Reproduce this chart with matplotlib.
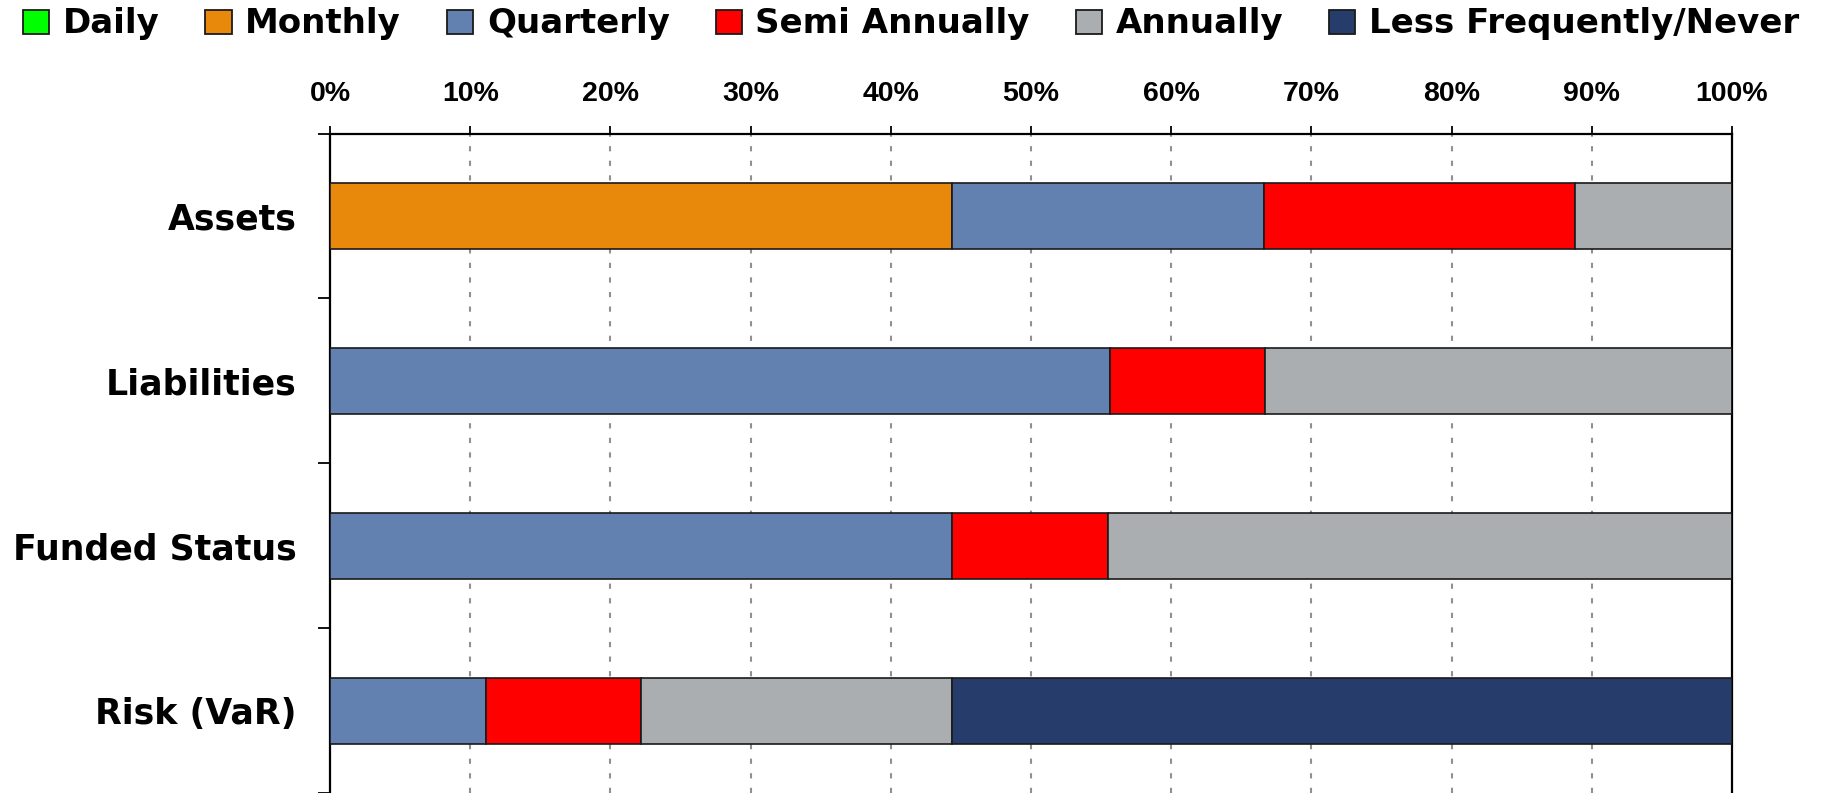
import matplotlib
matplotlib.use("Agg")
import matplotlib.pyplot as plt
from matplotlib.patches import Patch
import numpy as np

plt.rcParams['font.family'] = ['Liberation Sans', 'DejaVu Sans']
plt.rcParams['font.weight'] = 'bold'

categories = ["Assets", "Liabilities", "Funded Status", "Risk (VaR)"]
series = ["Daily", "Monthly", "Quarterly", "Semi Annually", "Annually", "Less Frequently/Never"]
colors = ["#00FF00", "#E8890C", "#6281B0", "#FF0000", "#ABAEB0", "#263C6A"]
daily = [0.0, 0.0, 0.0, 0.0]
monthly = [44.4, 0.0, 0.0, 0.0]
quarterly = [22.2, 55.6, 44.4, 11.1]
semi_annually = [22.2, 11.1, 11.1, 11.1]
annually = [11.2, 33.3, 44.5, 22.2]
less_frequently = [0.0, 0.0, 0.0, 55.6]
values = [daily, monthly, quarterly, semi_annually, annually, less_frequently]
xticks = [0, 10, 20, 30, 40, 50, 60, 70, 80, 90, 100]

wide = ['DejaVu Sans']

fig = plt.figure(figsize=(18.22, 7.93), dpi=100)
ax = fig.add_axes([330/1822, 0.0, (1732-330)/1822, 1 - 133.5/793])

y = np.arange(len(categories))
left = np.zeros(len(categories))
for name, vals, col in zip(series, values, colors):
    vals = np.array(vals)
    ax.barh(y, vals, left=left, height=0.4, color=col, edgecolor='#1a1a1a',
            linewidth=1.2, label=name, zorder=3)
    left += vals

ax.set_xlim(0, 100)
ax.set_ylim(3.5, -0.5)
ax.xaxis.tick_top()
ax.set_xticks(xticks)
ax.set_xticklabels([f"{t}%" for t in xticks], fontsize=20.5, fontweight='bold')
ax.tick_params(axis='x', direction='out', length=6, width=1.3, pad=13, top=True, bottom=False)

ax.set_yticks([-0.5, 0.5, 1.5, 2.5, 3.5])
ax.set_yticklabels([])
ax.set_yticks(y, minor=True)
ax.set_yticklabels(categories, minor=True, fontsize=25, fontweight='bold', family=wide)
ax.tick_params(axis='y', which='major', direction='out', length=9, width=1.3)
ax.tick_params(axis='y', which='minor', length=0, pad=24)

for xv in xticks[1:-1]:
    ax.axvline(xv, color='#909090', linestyle=(0, (2.5, 4.5)), linewidth=1.5, zorder=1)

ax.spines['bottom'].set_visible(False)
for s in ['top', 'left', 'right']:
    ax.spines[s].set_linewidth(1.6)
    ax.spines[s].set_color('black')

handles = [Patch(facecolor=c, edgecolor='#1a1a1a', linewidth=1.3) for c in colors]
fig.legend(handles, series, loc='center', bbox_to_anchor=(0.5, 1 - 24/793), ncol=6,
           frameon=False, prop={'weight': 'bold', 'size': 24.5, 'family': wide},
           handlelength=0.77, handleheight=0.7, handletextpad=0.4, columnspacing=1.35,
           borderaxespad=0)

fig.savefig("out.png", dpi=100)
